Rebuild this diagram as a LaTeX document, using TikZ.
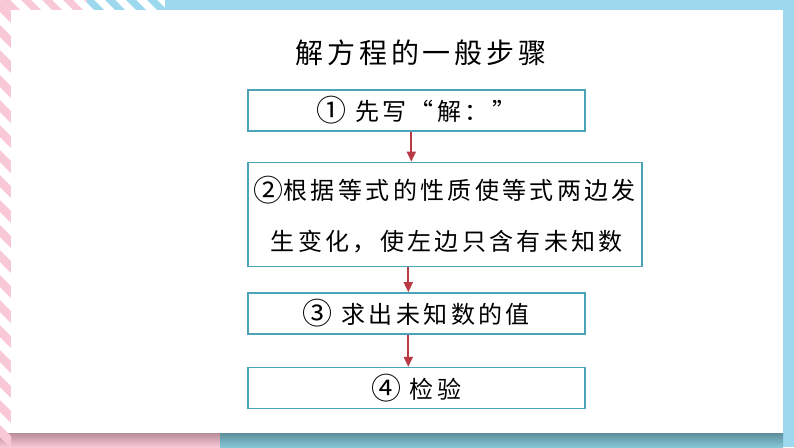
\documentclass[tikz,border=0pt]{standalone}
\usepackage{fontspec}
\newfontfamily\cjk[LetterSpace=14]{Noto Sans CJK SC}
\usetikzlibrary{arrows.meta,positioning}
\definecolor{framebox}{HTML}{4BA3B8}
\definecolor{flowred}{HTML}{B83A44}
\definecolor{pinkstripe}{HTML}{F8C8D6}
\definecolor{bluestripe}{HTML}{9CD9EF}
\definecolor{pinkshadow}{HTML}{B98C9A}
\definecolor{tealshadow}{HTML}{5E8E9C}
\definecolor{tealband}{HTML}{86C6D6}
\newcommand\stepnum[1]{\raisebox{-1.5pt}{\scalebox{1.25}{#1}}}
\tikzset{
  stepbox/.style={
    draw=framebox,
    line width=1.6pt,
    fill=white,
    minimum width=337pt,
    minimum height=41pt,
    inner sep=0pt,
    font=\cjk\fontsize{24}{28}\selectfont
  },
  titletext/.style={
    font=\cjk\fontsize{28}{32}\selectfont
  },
  flow/.style={flowred, line width=2pt, -{Triangle[length=10pt,width=9pt]}}
}

\begin{document}
\begin{tikzpicture}[x=1pt,y=-1pt]
\useasboundingbox (0,0) rectangle (794,447);

% Frame round the card
\fill[bluestripe] (165,0) rectangle (794,10);
\fill[bluestripe] (783,0) rectangle (794,447);
\shade[top color=pinkshadow, bottom color=pinkstripe] (0,433) rectangle (220,447);
\shade[top color=tealshadow, bottom color=tealband] (220,433) rectangle (783,447);
\begin{scope}
  \clip (0,0) rectangle (87,10);
  \foreach \i in {-1,...,5}
    \fill[pinkstripe] (\i*21,0) -- ++(10,0) -- ++(10,10) -- ++(-10,0) -- cycle;
\end{scope}
\begin{scope}
  \clip (87,0) rectangle (165,10);
  \foreach \i in {3,...,8}
    \fill[bluestripe] (\i*21,0) -- ++(10,0) -- ++(10,10) -- ++(-10,0) -- cycle;
\end{scope}
\begin{scope}
  \clip (0,0) rectangle (11,447);
  \foreach \i in {-1,...,18}
    \fill[pinkstripe] (0,\i*25) -- ++(0,12) -- ++(11,11) -- ++(0,-12) -- cycle;
\end{scope}
\fill[white] (11,10) rectangle (783,433);

% Title
\node[titletext] (title) at (421,53) {解方程的一般步骤};

% Steps
\node[stepbox, anchor=north west] (s1) at (247,89) {\stepnum{①} 先写“解：”};
\node[stepbox, below=30pt of s1.south west, anchor=north west,
      minimum width=394pt, minimum height=104pt, align=left,
      font=\cjk\fontsize{24}{51}\selectfont] (s2)
  {\stepnum{②}根据等式的性质使等式两边发\\\hspace*{17pt}生变化，使左边只含有未知数};
\node[stepbox, below=25pt of s2.south west, anchor=north west] (s3) {\stepnum{③} 求出未知数的值};
\node[stepbox, below=32pt of s3.south west, anchor=north west] (s4) {\stepnum{④} 检验};

% Arrows
\draw[flow] ([xshift=-5pt]s1.south) -- ([xshift=-5pt]s1.south |- s2.north);
\draw[flow] ([xshift=-8pt]s3.north |- s2.south) -- ([xshift=-8pt]s3.north);
\draw[flow] ([xshift=-8pt]s3.south) -- ([xshift=-8pt]s4.north);

\end{tikzpicture}
\end{document}
